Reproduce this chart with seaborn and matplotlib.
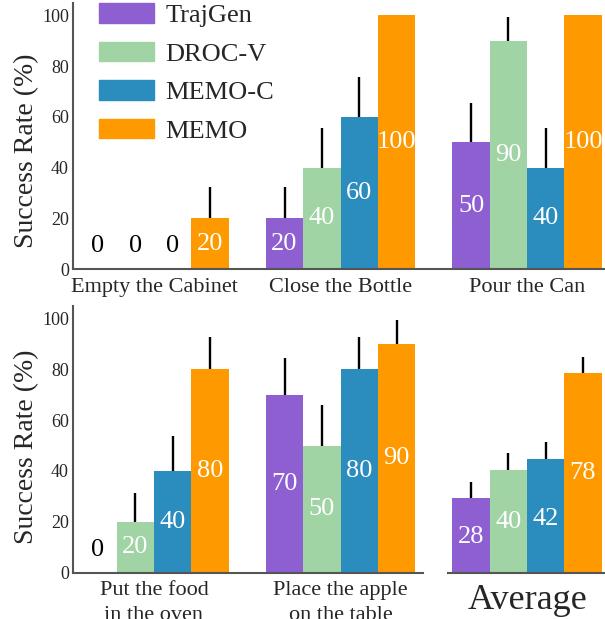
import matplotlib
matplotlib.use("Agg")
import matplotlib.pyplot as plt
import seaborn as sns
import pandas as pd

sns.set_style("ticks")
plt.rcParams['font.family'] = ['Liberation Serif', 'DejaVu Serif']

# ---------- data ----------
methods = ["TrajGen", "DROC-V", "MEMO-C", "MEMO"]
colors = ["#8E5FD1", "#A1D4A4", "#2B8CBE", "#FF9900"]

tasks_top = ["Empty the Cabinet", "Close the Bottle", "Pour the Can"]
tasks_bottom = ["Put the food\nin the oven", "Place the apple\non the table"]

# success rate per method, one value per task
rate_top = {
    "TrajGen": [0, 20, 50],
    "DROC-V": [0, 40, 90],
    "MEMO-C": [0, 60, 40],
    "MEMO": [20, 100, 100],
}
err_top = {
    "TrajGen": [0, 12.5, 15.5],
    "DROC-V": [0, 15.5, 9.5],
    "MEMO-C": [0, 15.5, 15.5],
    "MEMO": [12.5, 0, 0],
}
rate_bottom = {
    "TrajGen": [0, 70],
    "DROC-V": [20, 50],
    "MEMO-C": [40, 80],
    "MEMO": [80, 90],
}
err_bottom = {
    "TrajGen": [0, 14.5],
    "DROC-V": [11.5, 16],
    "MEMO-C": [13.7, 12.5],
    "MEMO": [12.5, 9.4],
}
avg_rate = [29.3, 40.3, 44.6, 78.4]
avg_err = [6.2, 6.9, 6.7, 6.2]
avg_labels = ["28", "40", "42", "78"]

yticks = [0, 20, 40, 60, 80, 100]
palette = dict(zip(methods, colors))


def to_df(tasks, rates, errs):
    rows = []
    for m in methods:
        for t, r, e in zip(tasks, rates[m], errs[m]):
            rows.append({"task": t, "method": m, "rate": r, "err": e})
    return pd.DataFrame(rows)


def draw(ax, df, order, labels=None):
    sns.barplot(data=df, x="task", y="rate", hue="method", order=order,
                hue_order=methods, palette=palette, errorbar=None,
                width=0.8, saturation=1, legend=False, ax=ax, zorder=2,
                linewidth=0, edgecolor="none")
    for i, (cont, m) in enumerate(zip(ax.containers, methods)):
        sub = df[df.method == m].set_index("task").loc[order]
        for bar, r, e in zip(cont, sub.rate, sub.err):
            xc = bar.get_x() + bar.get_width() / 2
            if e > 0:
                ax.errorbar(xc, r, yerr=[[0], [e]], fmt="none", ecolor="black",
                            elinewidth=1.7, capsize=0, zorder=1)
            txt = labels[i] if labels is not None else f"{r:.0f}"
            if r == 0:
                ax.text(xc, 9, txt, ha="center", va="center", fontsize=19,
                        color="black")
            else:
                ax.text(xc, float(txt) / 2, txt, ha="center", va="center",
                        fontsize=19, color="white")


def style(ax, left=True, label_y=0.47):
    ax.set_ylim(0, 105)
    sns.despine(ax=ax, left=not left)
    for s in ["left", "bottom"]:
        ax.spines[s].set_color("#555555")
        ax.spines[s].set_linewidth(1.5)
    ax.tick_params(axis="both", length=0)
    ax.tick_params(axis="y", pad=3, labelsize=13)
    ax.tick_params(axis="x", pad=6, labelsize=16)
    ax.set_xlabel("")
    if left:
        ax.set_yticks(yticks)
        ax.set_ylabel("Success Rate (%)", fontsize=20)
        # place the label in figure pixels so both rows line up
        ax.yaxis.set_label_coords(0.064, label_y, transform=fig.transFigure)
    else:
        ax.set_yticks([])
        ax.set_ylabel("")


fig = plt.figure(figsize=(6.05, 6.19), dpi=100)
ax_top = fig.add_axes([0.1207, 0.5650, 0.8793, 0.4309])
ax_bl = fig.add_axes([0.1207, 0.0748, 0.5785, 0.4315])
ax_avg = fig.add_axes([0.7405, 0.0748, 0.2595, 0.4315])

draw(ax_top, to_df(tasks_top, rate_top, err_top), tasks_top)
style(ax_top, label_y=0.565 + 0.4309 * 0.445)
ax_top.set_xlim(-0.434, 2.418)

draw(ax_bl, to_df(tasks_bottom, rate_bottom, err_bottom), tasks_bottom)
style(ax_bl, label_y=0.0748 + 0.4315 * 0.47)
ax_bl.set_xlim(-0.434, 1.442)
for t in ax_bl.get_xticklabels():
    t.set_linespacing(1.45)

avg_df = pd.DataFrame({"task": ["Average"] * 4, "method": methods,
                       "rate": avg_rate, "err": avg_err})
draw(ax_avg, avg_df, ["Average"], labels=avg_labels)
style(ax_avg, left=False)
ax_avg.set_xlim(-0.424, 0.418)
ax_avg.tick_params(axis="x", labelsize=26, pad=8)

handles = [plt.Rectangle((0, 0), 1, 1, color=c) for c in colors]
ax_top.legend(handles, methods, loc="upper left", bbox_to_anchor=(0.049, 0.997),
              frameon=False, fontsize=19, handlelength=2.08, handleheight=0.76,
              labelspacing=0.55, handletextpad=0.42, borderpad=0, borderaxespad=0)

fig.savefig("out.png", dpi=100)
